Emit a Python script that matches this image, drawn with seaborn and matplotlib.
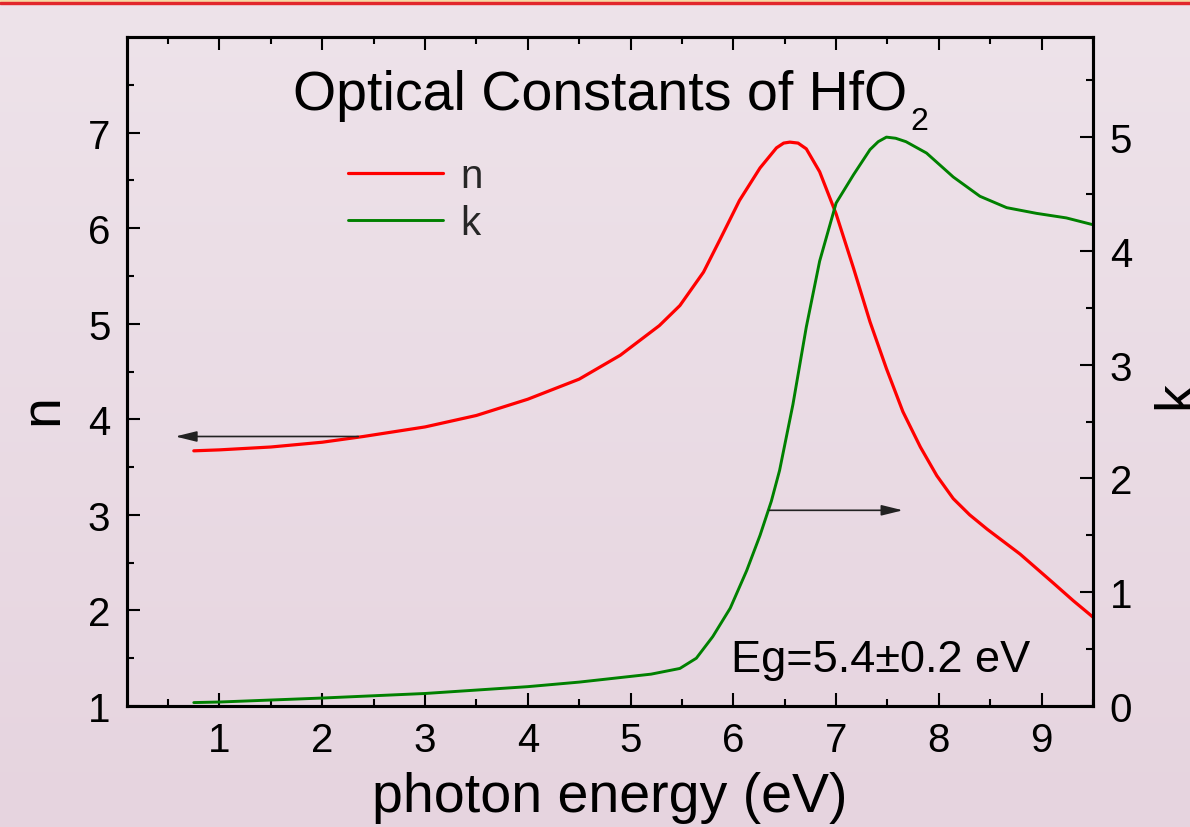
import numpy as np
import pandas as pd
import matplotlib
matplotlib.use("Agg")
import matplotlib.pyplot as plt
import seaborn as sns
from matplotlib.patches import Rectangle
from matplotlib.lines import Line2D

# ---- data ----
n_energy = [0.75, 1.0, 1.5, 2.0, 2.4, 3.0, 3.5, 4.0, 4.5, 4.9, 5.28, 5.48, 5.71, 5.87,
            6.06, 6.26, 6.42, 6.49, 6.55, 6.63, 6.71, 6.84, 7.0, 7.17, 7.33, 7.49, 7.65, 7.82,
            7.98, 8.14, 8.3, 8.47, 8.79, 9.11, 9.31, 9.5]
n_values = [3.67, 3.68, 3.71, 3.76, 3.82, 3.92, 4.04, 4.21, 4.42, 4.67, 4.98, 5.19, 5.54, 5.88,
            6.29, 6.63, 6.84, 6.89, 6.90, 6.89, 6.83, 6.59, 6.15, 5.58, 5.02, 4.53, 4.08, 3.71,
            3.41, 3.17, 3.00, 2.85, 2.59, 2.29, 2.10, 1.93]

k_energy = [0.75, 1.0, 2.0, 3.0, 4.0, 4.5, 4.9, 5.2, 5.48, 5.64, 5.8, 5.97, 6.13, 6.26,
            6.37, 6.45, 6.58, 6.71, 6.84, 7.0, 7.17, 7.33, 7.41, 7.49, 7.58, 7.68, 7.88, 8.14,
            8.4, 8.66, 8.95, 9.24, 9.5]
k_values = [0.03, 0.035, 0.07, 0.11, 0.17, 0.21, 0.25, 0.28, 0.33, 0.42, 0.61, 0.86, 1.19, 1.50,
            1.80, 2.07, 2.65, 3.33, 3.91, 4.42, 4.67, 4.89, 4.96, 5.00, 4.99, 4.96, 4.86, 4.65,
            4.48, 4.38, 4.33, 4.29, 4.23]

x_ticks = [1, 2, 3, 4, 5, 6, 7, 8, 9]
n_ticks = [1, 2, 3, 4, 5, 6, 7]
k_ticks = [0, 1, 2, 3, 4, 5]

df_n = pd.DataFrame({"E": n_energy, "n": n_values})
df_k = pd.DataFrame({"E": k_energy, "k": k_values})

sns.set_theme(style="ticks")
plt.rcParams["font.family"] = ["Liberation Sans", "DejaVu Sans"]
plt.rcParams["lines.solid_capstyle"] = "round"
plt.rcParams["lines.solid_joinstyle"] = "round"

fig = plt.figure(figsize=(11.9, 8.28), dpi=100)
fig.patch.set_facecolor("#EADBE4")

# background gradient
bg = fig.add_axes([0, 0, 1, 1], zorder=-10)
grad = np.linspace(0, 1, 256).reshape(-1, 1)
top_c = np.array([238, 227, 234]) / 255.0
bot_c = np.array([230, 212, 223]) / 255.0
img = top_c[None, None, :] * (1 - grad[:, :, None]) + bot_c[None, None, :] * grad[:, :, None]
bg.imshow(img, aspect="auto", extent=[0, 1, 0, 1])
bg.set_axis_off()

# top decorative strip
fig.patches.append(Rectangle((0, 1 - 2.5 / 828), 1, 2.5 / 828, transform=fig.transFigure,
                             color="#F6D9A2", zorder=5))
fig.patches.append(Rectangle((0, 1 - 5.0 / 828), 1, 2.5 / 828, transform=fig.transFigure,
                             color="#E2272C", zorder=5))

ax = fig.add_axes([127 / 1190, 1 - 707 / 828, (1093 - 127) / 1190, (707 - 38) / 828])
ax.set_facecolor("none")
ax2 = ax.twinx()

sns.lineplot(data=df_n, x="E", y="n", ax=ax, color="#FF0000", lw=2.3, label="n", legend=False)
sns.lineplot(data=df_k, x="E", y="k", ax=ax2, color="#008000", lw=2.1, label="k", legend=False)

ax.set_xlim(0.1, 9.5)
ax.set_ylim(1, 8)
ax2.set_ylim(0, 5.88)

ax.set_xticks(x_ticks)
ax.set_xticks(np.arange(0.5, 9.6, 1.0), minor=True)
ax.set_yticks(n_ticks)
ax.set_yticks(np.arange(1.5, 8.0, 1.0), minor=True)
ax2.set_yticks(k_ticks)
ax2.set_yticks(np.arange(0.5, 5.9, 1.0), minor=True)

for a in (ax, ax2):
    for s in a.spines.values():
        s.set_linewidth(2.2)
        s.set_color("black")
        s.set_visible(True)

tick_fs = 29
ax.tick_params(axis="x", which="both", direction="in", top=True, bottom=True,
               labelsize=tick_fs, pad=11, colors="black")
ax.tick_params(axis="y", which="both", direction="in", left=True, right=False,
               labelsize=tick_fs, pad=12, colors="black")
ax2.tick_params(axis="y", which="both", direction="in", right=True, left=False,
                labelsize=tick_fs, pad=12, colors="black")
for a in (ax, ax2):
    a.tick_params(which="major", length=9.5, width=1.5)
    a.tick_params(which="minor", length=5, width=1.5)

ax.set_xlabel("photon energy (eV)", fontsize=40, color="black")
ax.xaxis.set_label_coords(0.5, -0.097)
ax.set_ylabel("n", fontsize=40, color="black")
ax.yaxis.set_label_coords(-0.060, 0.445)
ax2.set_ylabel("k", fontsize=40, color="black")
ax2.yaxis.set_label_coords(1.060, 0.466)

# title with a low subscript, as in the reference
ax.text(0.8075, 0.892, "Optical Constants of HfO", transform=ax.transAxes,
        ha="right", va="baseline", fontsize=40, color="black")
ax.text(0.8105, 0.8625, "2", transform=ax.transAxes,
        ha="left", va="baseline", fontsize=23, color="black")

ax.text(0.625, 0.052, "Eg=5.4\u00b10.2 eV", transform=ax.transAxes,
        ha="left", va="baseline", fontsize=32.5, color="black")

arrow_kw = dict(arrowstyle="-|>,head_length=1.3,head_width=0.32", color="#222222",
                lw=1.2, shrinkA=0, shrinkB=0, mutation_scale=10)
ax.annotate("", xy=(0.57, 3.82), xytext=(2.35, 3.82), arrowprops=arrow_kw)
ax2.annotate("", xy=(7.65, 1.72), xytext=(6.35, 1.72), arrowprops=arrow_kw)

handles = [Line2D([], [], color="#FF0000", lw=2.3), Line2D([], [], color="#008000", lw=2.1)]
leg = ax2.legend(handles, ["n", "k"], loc="upper left", bbox_to_anchor=(0.2288, 0.820),
                 frameon=False, fontsize=29, handlelength=2.36, handletextpad=0.42,
                 borderpad=0, borderaxespad=0, labelspacing=0.225)

fig.savefig("out.png", dpi=100, facecolor=fig.get_facecolor())
